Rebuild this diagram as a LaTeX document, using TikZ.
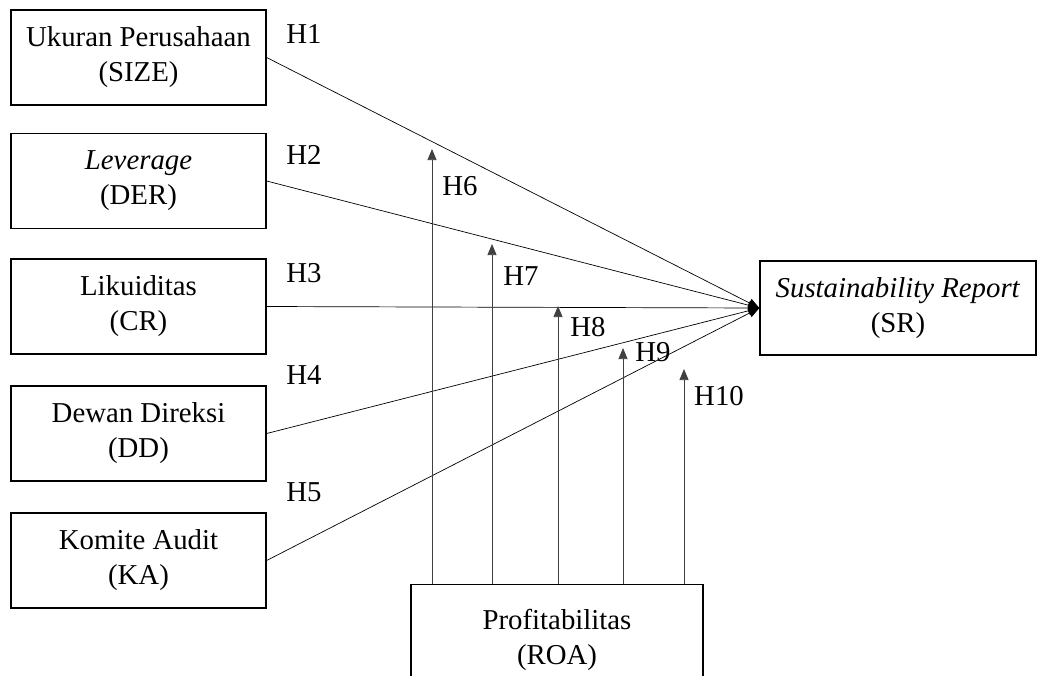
\documentclass[tikz,border=0pt]{standalone}
\usepackage{fontspec}
\setmainfont{Liberation Serif}
\usepackage{tikz}
\usetikzlibrary{arrows.meta,
                positioning
                }

\begin{document}
\begin{tikzpicture}[x=1pt, y=-1pt,
        varbox/.style = {draw, line width=1.3pt, minimum width=255pt, minimum height=95pt,
                         align=center, font=\fontsize{28.8}{35}\selectfont},
        hyp/.style = {font=\fontsize{28.8}{35}\selectfont, inner sep=0pt},
        path/.style = {line width=0.7pt, -{Triangle[length=11pt, width=9pt]}},
        moder/.style = {line width=0.7pt, draw=black!75, -{Triangle[length=11pt, width=9pt]}}
        ]
            \useasboundingbox (0,0) rectangle (1048,675);

            %independent variables
            \node[varbox] (size) at (138.5, 57.5) {Ukuran Perusahaan\\(SIZE)};
            \node[varbox] (der)  at (138.5, 181)  {\textit{Leverage}\\(DER)};
            \node[varbox] (cr)   at (138.5, 306.5) {Likuiditas\\(CR)};
            \node[varbox] (dd)   at (138.5, 433.5) {Dewan Direksi\\(DD)};
            \node[varbox] (ka)   at (138.5, 560.5) {Komite Audit\\(KA)};

            %dependent and moderating variables
            \node[varbox, minimum width=276pt, minimum height=94pt] (sr) at (898, 308) {\textit{Sustainability Report}\\(SR)};
            \node[varbox, minimum width=292pt, minimum height=110pt, anchor=north] (roa) at (557, 584) {Profitabilitas\\(ROA)};

            %direct paths
            \draw[path] (size.east) -- (sr.west);
            \draw[path] (der.east)  -- (sr.west);
            \draw[path] (cr.east)   -- (sr.west);
            \draw[path] (dd.east)   -- (sr.west);
            \draw[path] (ka.east)   -- (sr.west);

            %moderating paths
            \coordinate (m6)  at (432, 149);
            \coordinate (m7)  at (492, 244);
            \coordinate (m8)  at (558, 306);
            \coordinate (m9)  at (623, 348);
            \coordinate (m10) at (684, 369);
            \foreach \m in {m6, m7, m8, m9, m10}
                \draw[moder] (\m |- roa.north) -- (\m);

            %labels
            \node[hyp] (h1)  at (304, 34)  {H1};
            \node[hyp] (h2)  at (304, 155) {H2};
            \node[hyp] (h3)  at (304, 273) {H3};
            \node[hyp] (h4)  at (304, 375) {H4};
            \node[hyp] (h5)  at (304, 492) {H5};
            \node[hyp] (h6)  at (460, 186) {H6};
            \node[hyp] (h7)  at (521, 276) {H7};
            \node[hyp] (h8)  at (588, 327) {H8};
            \node[hyp] (h9)  at (653, 352) {H9};
            \node[hyp] (h10) at (719, 396) {H10};
\end{tikzpicture}
\end{document}
